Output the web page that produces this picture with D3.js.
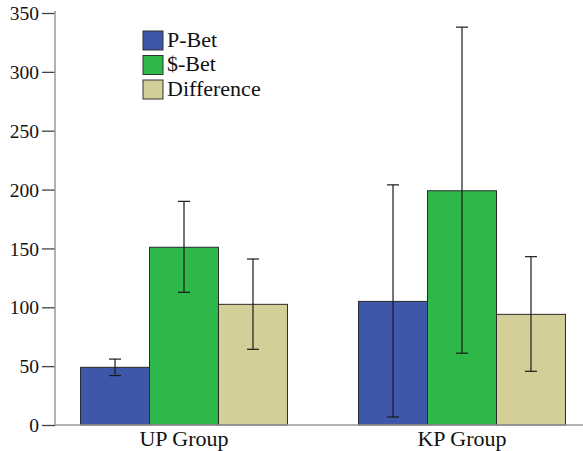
<!DOCTYPE html>
<html>
<head>
<meta charset="utf-8">
<script src="https://cdn.jsdelivr.net/npm/d3@7"></script>
<style>
  body { margin: 0; background: #fff; }
</style>
</head>
<body>
<svg id="chart" width="583" height="451"></svg>
<script>
// chart data
const groups = ["UP Group", "KP Group"];
const series = ["P-Bet", "$-Bet", "Difference"];
const colors = ["#3e57a8", "#2fb84a", "#d4cf98"];
const means = [[49, 151, 102.5], [105, 199, 94]];
const errLow = [[42, 112.7, 64.3], [6.8, 61, 45.6]];
const errHigh = [[56, 190, 141], [204, 338, 143]];
const yTicks = [0, 50, 100, 150, 200, 250, 300, 350];

const serif = "'Liberation Serif'";
const svg = d3.select("#chart");

// scales
const y = d3.scaleLinear().domain([0, 350]).range([425, 13]);
const x0 = d3.scaleBand().domain(groups).range([45, 601]).padding(0);
const x1 = d3.scaleBand().domain(series).range([0, x0.bandwidth()]).paddingOuter(0.515);

// y axis
const yAxis = svg.append("g")
    .attr("transform", "translate(55,0)")
    .call(d3.axisLeft(y).tickValues(yTicks).tickSize(13).tickPadding(3).tickFormat(d3.format("d")));
yAxis.attr("font-family", null).attr("font-size", null);
yAxis.select(".domain").remove();
yAxis.selectAll(".tick line").attr("stroke", "#444").attr("stroke-width", 1.3);
yAxis.selectAll(".tick text")
    .attr("fill", "#111")
    .attr("dy", "0.34em")
    .style("font-family", serif)
    .style("font-size", "19.5px");
svg.append("line")
    .attr("x1", 55).attr("x2", 55).attr("y1", 11).attr("y2", 425)
    .attr("stroke", "#999").attr("stroke-width", 1.5);

// bars
const grp = svg.selectAll(".grp").data(groups).enter().append("g")
    .attr("class", "grp")
    .attr("transform", d => "translate(" + x0(d) + ",0)");

grp.selectAll("rect")
    .data((g, gi) => series.map((s, si) => ({ s: s, si: si, v: means[gi][si] })))
    .enter().append("rect")
    .attr("x", d => x1(d.s))
    .attr("y", d => y(d.v))
    .attr("width", x1.bandwidth())
    .attr("height", d => y(0) - y(d.v))
    .attr("fill", d => colors[d.si])
    .attr("stroke", "#2a2a2a")
    .attr("stroke-width", 1);

// x axis line
svg.append("line")
    .attr("x1", 55).attr("x2", 583).attr("y1", 425).attr("y2", 425)
    .attr("stroke", "#999").attr("stroke-width", 1.5);

// error bars
const cap = 6;
const err = grp.selectAll(".err")
    .data((g, gi) => series.map((s, si) => ({ s: s, lo: errLow[gi][si], hi: errHigh[gi][si] })))
    .enter().append("g")
    .attr("class", "err")
    .attr("stroke", "#1a1a1a")
    .attr("stroke-width", 1.2);
err.append("line")
    .attr("x1", d => x1(d.s) + x1.bandwidth() / 2)
    .attr("x2", d => x1(d.s) + x1.bandwidth() / 2)
    .attr("y1", d => y(d.lo)).attr("y2", d => y(d.hi));
err.append("line")
    .attr("x1", d => x1(d.s) + x1.bandwidth() / 2 - cap)
    .attr("x2", d => x1(d.s) + x1.bandwidth() / 2 + cap)
    .attr("y1", d => y(d.lo)).attr("y2", d => y(d.lo));
err.append("line")
    .attr("x1", d => x1(d.s) + x1.bandwidth() / 2 - cap)
    .attr("x2", d => x1(d.s) + x1.bandwidth() / 2 + cap)
    .attr("y1", d => y(d.hi)).attr("y2", d => y(d.hi));

// group labels
svg.selectAll(".glabel").data(groups).enter().append("text")
    .attr("class", "glabel")
    .attr("x", d => x0(d) + x0.bandwidth() / 2)
    .attr("y", 446)
    .attr("text-anchor", "middle")
    .attr("fill", "#111")
    .style("font-family", serif)
    .style("font-size", "22px")
    .text(d => d);

// legend
const legend = svg.append("g").attr("transform", "translate(143,31)");
const item = legend.selectAll(".item").data(series).enter().append("g")
    .attr("transform", (d, i) => "translate(0," + (i * 24.5) + ")");
item.append("rect")
    .attr("width", 20).attr("height", 19)
    .attr("fill", (d, i) => colors[i])
    .attr("stroke", "#333").attr("stroke-width", 1);
item.append("text")
    .attr("x", 24).attr("y", 15.5)
    .attr("fill", "#111")
    .style("font-family", serif)
    .style("font-size", "22px")
    .text(d => d);
</script>
</body>
</html>
